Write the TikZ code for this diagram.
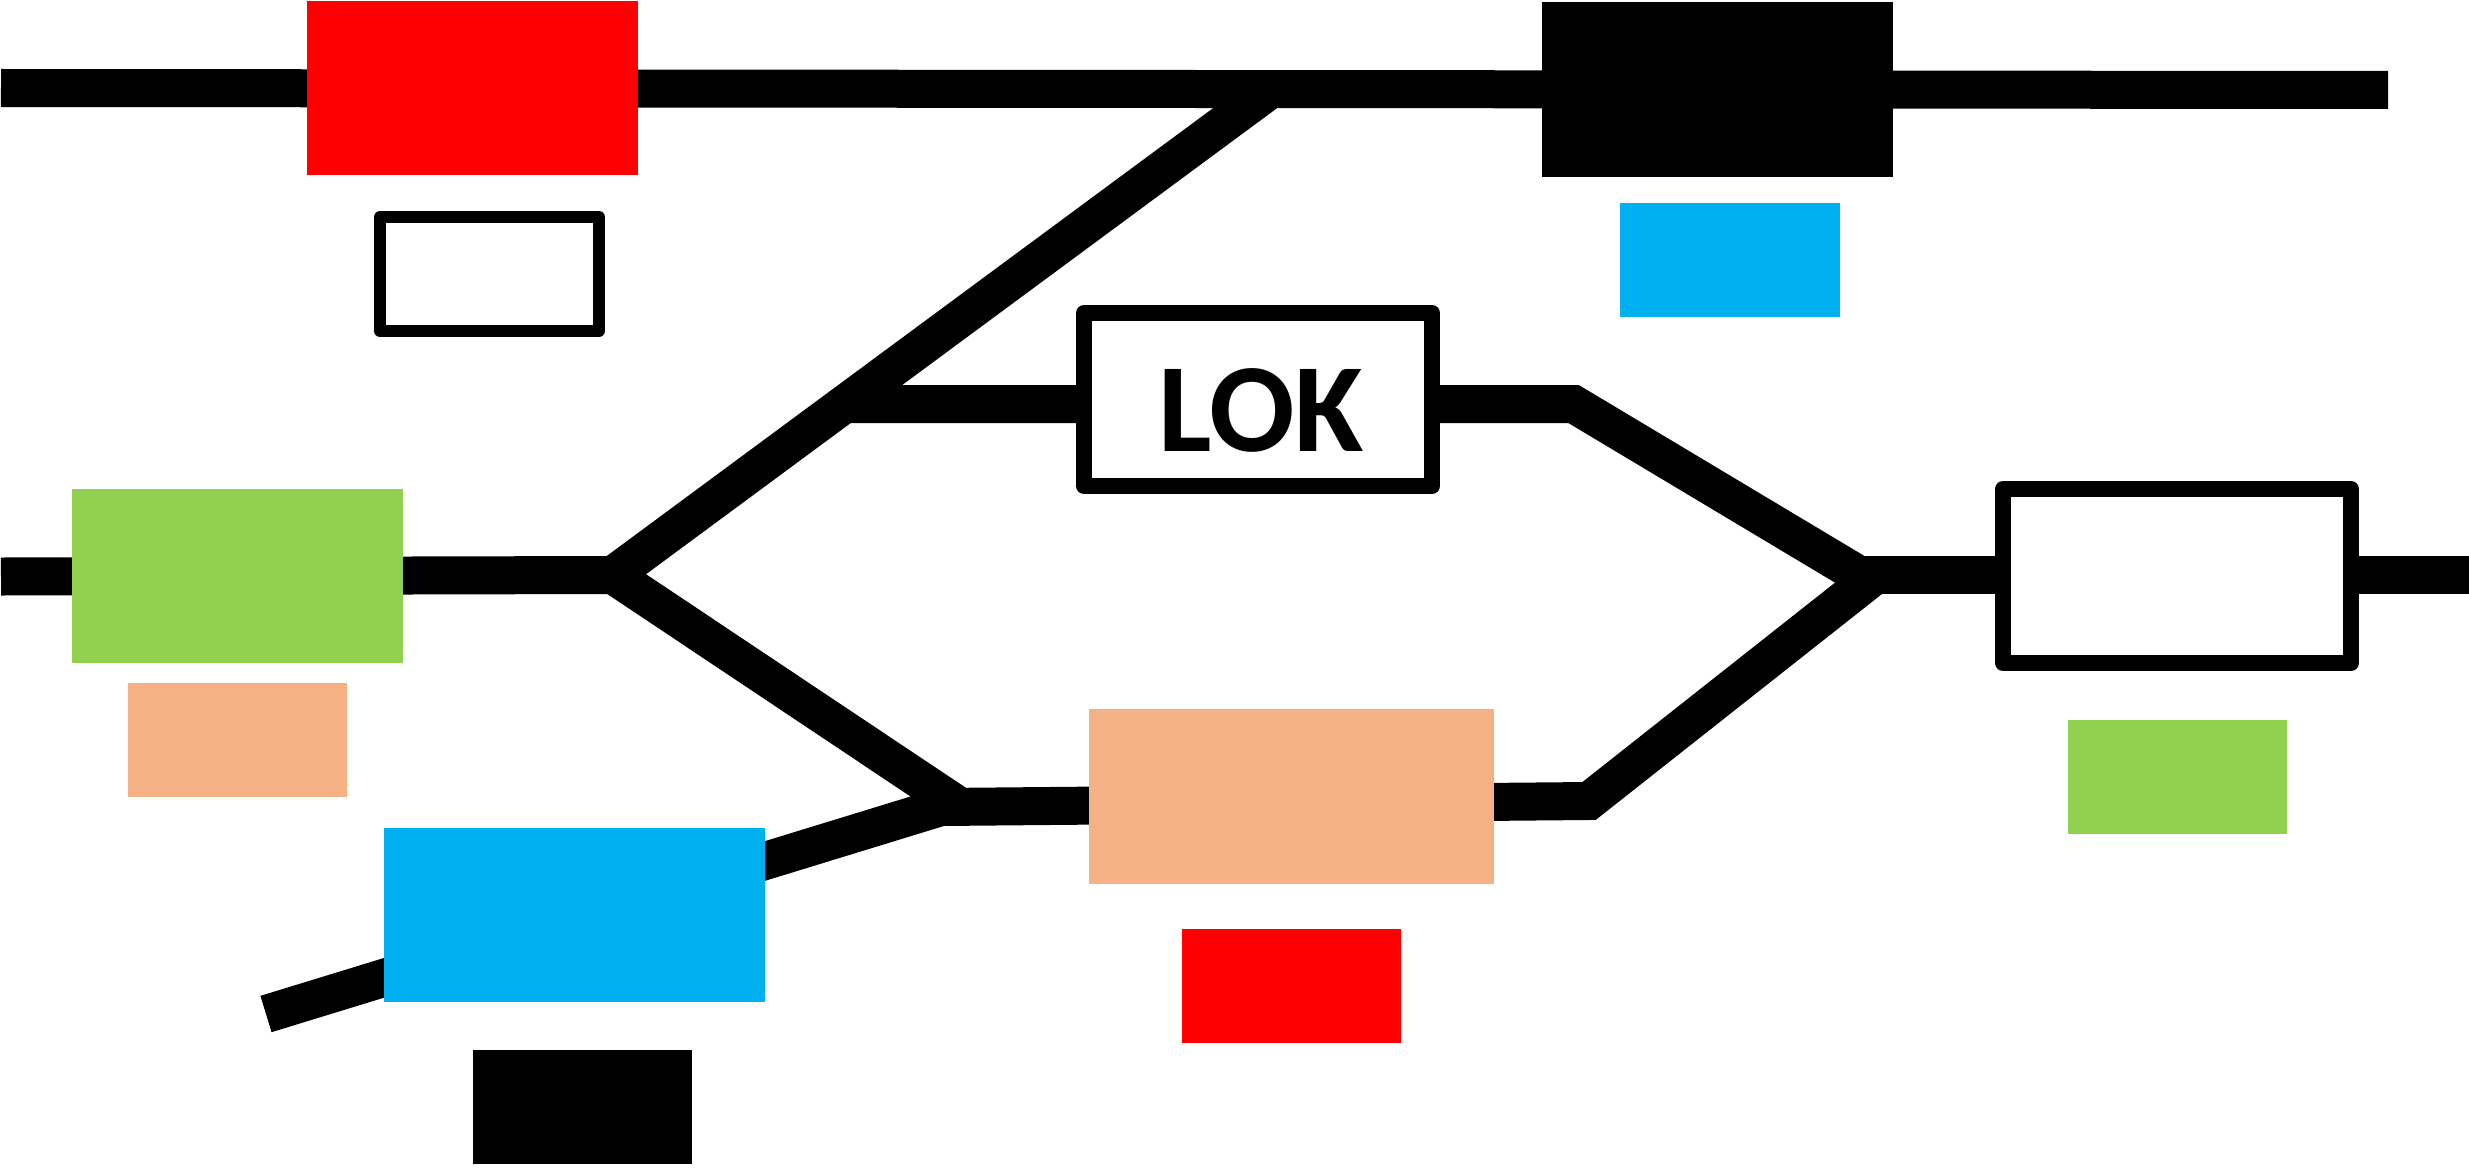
\documentclass[tikz,border=0pt]{standalone}
\usepackage{fontspec}
\setmainfont{Carlito}
\definecolor{signalred}{HTML}{FF0000}
\definecolor{skyblue}{HTML}{00B0F0}
\definecolor{leafgreen}{HTML}{92D050}
\definecolor{peach}{HTML}{F4B183}

\begin{document}
\begin{tikzpicture}
        \tikzstyle{track}=[line width=.38cm]
        \tikzstyle{block}=[inner sep=0pt,outer sep=0pt,minimum width=3.31cm,minimum height=1.74cm]
        \tikzstyle{signal}=[inner sep=0pt,outer sep=0pt,minimum width=2.19cm,minimum height=1.14cm]
        \tikzstyle{station}=[draw=black,fill=white,line width=.16cm,line join=round,inner sep=0pt,outer sep=0pt,minimum width=3.48cm,minimum height=1.74cm]

        \useasboundingbox (0,0) rectangle (24.69,11.68);

        \coordinate (topl) at (0.01,10.80);
        \coordinate (topr) at (23.88,10.78);
        \coordinate (topj) at (12.71,10.79);
        \coordinate (midl) at (0.01,5.915);
        \coordinate (midr) at (24.69,5.935);
        \coordinate (ja) at (6.13,5.93);
        \coordinate (jb) at (9.605,3.61);
        \coordinate (jc) at (9.41,3.61);
        \coordinate (jd) at (15.89,3.67);
        \coordinate (je) at (18.684,5.875);
        \coordinate (jf) at (18.50,5.935);
        \coordinate (jg) at (15.735,7.64);
        \coordinate (jh) at (8.44,7.64);
        \coordinate (low) at (2.66,1.54);

        \draw[track] (topl) -- (topr);
        \draw[track] (midl) -- (ja);
        \draw[track] (topj) -- (ja) -- (jb);
        \draw[track] (low) -- (jc) -- (jd) -- (je) -- (jg) -- (jh);
        \draw[track] (jf) -- (midr);

        \node (redb)[block,fill=signalred] at (4.725,10.80) {};
        \node (blackb)[block,fill=black,minimum width=3.51cm,minimum height=1.75cm] at (17.175,10.785) {};
        \node (greenb)[block,fill=leafgreen] at (2.375,5.92) {};
        \node (blueb)[block,fill=skyblue,minimum width=3.81cm] at (5.745,2.53) {};
        \node (peachb)[block,fill=peach,minimum width=4.05cm,minimum height=1.75cm] at (12.915,3.715) {};

        \node (blues)[signal,fill=skyblue,minimum width=2.20cm] at (17.30,9.08) {};
        \node (peachs)[signal,fill=peach] at (2.375,4.285) {};
        \node (blacks)[signal,fill=black] at (5.825,0.61) {};
        \node (reds)[signal,fill=signalred] at (12.915,1.82) {};
        \node (greens)[signal,fill=leafgreen] at (21.77,3.91) {};

        \node (empty)[station,line width=.12cm,minimum width=2.19cm,minimum height=1.14cm] at (4.895,8.94) {};
        \node (lok)[station,minimum height=1.73cm] at (12.58,7.685) {};
        \node (right)[station] at (21.77,5.92) {};
        \node (loktext)[inner sep=0pt,font=\bfseries\fontsize{36}{40}\selectfont] at (12.61,7.58) {LOK};
    \end{tikzpicture}
\end{document}
